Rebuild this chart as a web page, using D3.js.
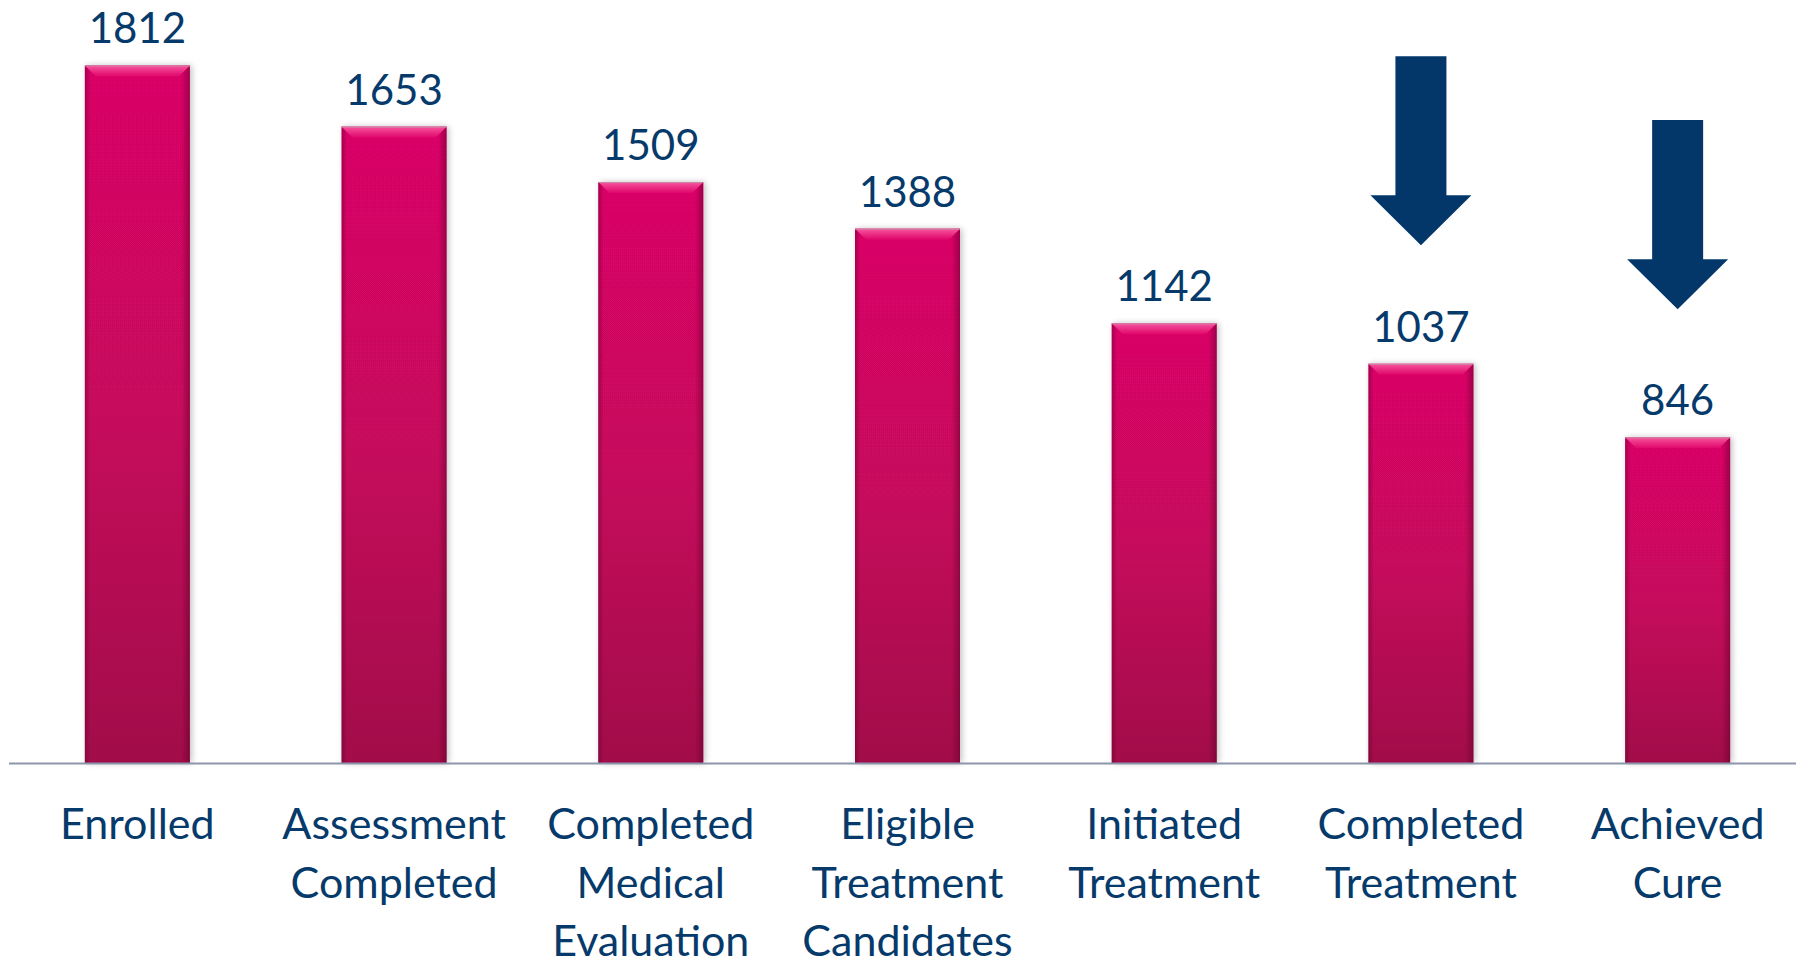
<!DOCTYPE html>
<html>
<head>
<meta charset="utf-8">
<script src="https://cdn.jsdelivr.net/npm/d3@7"></script>
<style>
  html, body { margin: 0; padding: 0; background: #fff; }
  svg { display: block; }
  text { font-family: Lato, "Open Sans", sans-serif; fill: #063a6b; }
</style>
</head>
<body>
<div id="chart"></div>
<script>
// chart data
const categories = [
  ['Enrolled'],
  ['Assessment', 'Completed'],
  ['Completed', 'Medical', 'Evaluation'],
  ['Eligible', 'Treatment', 'Candidates'],
  ['Initiated', 'Treatment'],
  ['Completed', 'Treatment'],
  ['Achieved', 'Cure']
];
const values = [1812, 1653, 1509, 1388, 1142, 1037, 846];
// down arrows above the last two bars (value range they span)
const arrowCats = [5, 6];
const arrowTop = [1836, 1670];
const arrowTip = [1345, 1179];

const width = 1796, height = 960;
const baseY = 763;

const svg = d3.select('#chart').append('svg')
  .attr('width', width)
  .attr('height', height);

const x = d3.scaleBand()
  .domain(d3.range(values.length))
  .range([9, 1806])
  .paddingInner(0.591)
  .paddingOuter(0.2955);

const y = d3.scaleLinear()
  .domain([0, 1982])
  .range([baseY, 0]);

const defs = svg.append('defs');

// vertical colour of the bars
const grad = defs.append('linearGradient')
  .attr('id', 'barGrad')
  .attr('x1', 0).attr('y1', 0).attr('x2', 0).attr('y2', 1);
grad.append('stop').attr('offset', '0%').attr('stop-color', '#e0066a');
grad.append('stop').attr('offset', '50%').attr('stop-color', '#cc075f');
grad.append('stop').attr('offset', '100%').attr('stop-color', '#a5094b');

// darker side edges
const side = defs.append('linearGradient')
  .attr('id', 'sideGrad')
  .attr('x1', 0).attr('y1', 0).attr('x2', 1).attr('y2', 0);
side.append('stop').attr('offset', '0%').attr('stop-color', '#5a0028').attr('stop-opacity', 0.45);
side.append('stop').attr('offset', '5%').attr('stop-color', '#5a0028').attr('stop-opacity', 0.05);
side.append('stop').attr('offset', '92%').attr('stop-color', '#5a0028').attr('stop-opacity', 0.05);
side.append('stop').attr('offset', '100%').attr('stop-color', '#5a0028').attr('stop-opacity', 0.5);

// top bevel highlight
const bevGrad = defs.append('linearGradient')
  .attr('id', 'bevGrad')
  .attr('x1', 0).attr('y1', 0).attr('x2', 0).attr('y2', 1);
bevGrad.append('stop').attr('offset', '0%').attr('stop-color', '#f7559f');
bevGrad.append('stop').attr('offset', '100%').attr('stop-color', '#e0066a');

const shadow = defs.append('filter')
  .attr('id', 'shadow')
  .attr('x', '-20%').attr('y', '-5%').attr('width', '140%').attr('height', '110%');
shadow.append('feGaussianBlur').attr('in', 'SourceAlpha').attr('stdDeviation', 3).attr('result', 'b');
shadow.append('feOffset').attr('in', 'b').attr('dx', 2).attr('dy', 0).attr('result', 'o');
shadow.append('feComponentTransfer').attr('in', 'o').attr('result', 's')
  .append('feFuncA').attr('type', 'linear').attr('slope', 0.25);
const merge = shadow.append('feMerge');
merge.append('feMergeNode').attr('in', 's');
merge.append('feMergeNode').attr('in', 'SourceGraphic');

// bars
const bars = svg.append('g').selectAll('g')
  .data(values)
  .join('g');

bars.append('rect')
  .attr('x', (d, i) => x(i))
  .attr('y', d => y(d))
  .attr('width', x.bandwidth())
  .attr('height', d => baseY - y(d))
  .attr('fill', 'url(#barGrad)')
  .attr('filter', 'url(#shadow)');

bars.append('rect')
  .attr('x', (d, i) => x(i))
  .attr('y', d => y(d))
  .attr('width', x.bandwidth())
  .attr('height', d => baseY - y(d))
  .attr('fill', 'url(#sideGrad)');

const bev = 11;
bars.append('path')
  .attr('d', (d, i) => {
    const x0 = x(i), x1 = x(i) + x.bandwidth(), t = y(d);
    return `M${x0},${t}L${x1},${t}L${x1 - bev},${t + bev}L${x0 + bev},${t + bev}Z`;
  })
  .attr('fill', 'url(#bevGrad)');

bars.append('line')
  .attr('x1', (d, i) => x(i))
  .attr('x2', (d, i) => x(i) + x.bandwidth())
  .attr('y1', d => y(d) + 0.5)
  .attr('y2', d => y(d) + 0.5)
  .attr('stroke', '#c98aa6')
  .attr('stroke-width', 1);

// baseline
svg.append('line')
  .attr('x1', 9).attr('x2', width)
  .attr('y1', baseY + 0.5).attr('y2', baseY + 0.5)
  .attr('stroke', '#8c96ab')
  .attr('stroke-width', 2);

// value labels
svg.append('g').selectAll('text')
  .data(values)
  .join('text')
  .attr('x', (d, i) => x(i) + x.bandwidth() / 2)
  .attr('y', d => y(d) - 22)
  .attr('text-anchor', 'middle')
  .style('font-size', '42px')
  .text(d => d);

// category labels
const lab = svg.append('g').selectAll('text')
  .data(categories)
  .join('text')
  .attr('text-anchor', 'middle')
  .style('font-size', '43px')
  .attr('transform', (d, i) => `translate(${x(i) + x.bandwidth() / 2},839)`);
lab.selectAll('tspan')
  .data(d => d)
  .join('tspan')
  .attr('x', 0)
  .attr('y', (d, j) => j * 58.5)
  .text(d => d);

// arrows
const shaftW = 51, headW = 101, headH = 50;
svg.append('g').selectAll('path')
  .data(arrowCats)
  .join('path')
  .attr('d', (c, k) => {
    const cx = x(c) + x.bandwidth() / 2;
    const top = y(arrowTop[k]), tip = y(arrowTip[k]);
    const hy = tip - headH;
    return `M${cx - shaftW / 2},${top}L${cx + shaftW / 2},${top}L${cx + shaftW / 2},${hy}` +
      `L${cx + headW / 2},${hy}L${cx},${tip}L${cx - headW / 2},${hy}L${cx - shaftW / 2},${hy}Z`;
  })
  .attr('fill', '#03376a');
</script>
</body>
</html>
